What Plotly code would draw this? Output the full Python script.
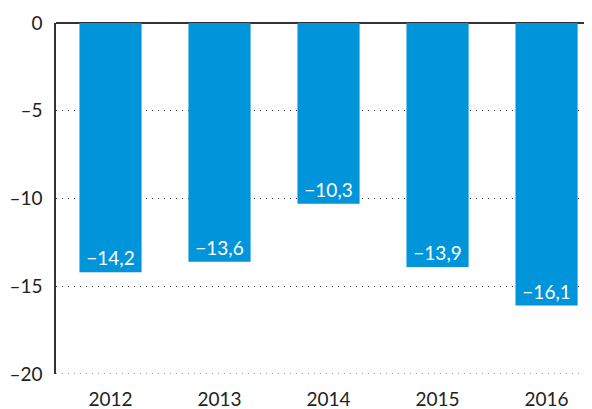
import plotly.graph_objects as go

years = ["2012", "2013", "2014", "2015", "2016"]
values = [-14.2, -13.6, -10.3, -13.9, -16.1]
tick_vals = [0, -5, -10, -15, -20]
tick_text = ["0", "–5", "–10", "–15", "–20"]

labels = ["−" + f"{abs(v):.1f}".replace(".", ",") for v in values]

fig = go.Figure(go.Bar(
    x=years, y=values, text=labels,
    textposition="inside", insidetextanchor="end",
    textfont=dict(color="white", size=19, family="Lato"),
    marker=dict(color="#0095da", line=dict(width=0)),
    width=0.57, cliponaxis=False,
))

fig.add_hline(y=min(tick_vals), line=dict(color="#444", width=1, dash="1px,5px"),
              layer="below")

fig.update_layout(
    width=584, height=409,
    margin=dict(l=48, r=0, t=15, b=43, autoexpand=False),
    paper_bgcolor="white", plot_bgcolor="white",
    font=dict(family="Lato", size=19, color="#222"),
    showlegend=False,
    xaxis=dict(range=[-0.5, 4.417], showline=False, ticks="", showgrid=False,
               zeroline=False, ticklabelstandoff=12, automargin=False),
    yaxis=dict(range=[min(tick_vals), max(tick_vals)], tickvals=tick_vals, ticktext=tick_text,
               showline=True, linecolor="#333", linewidth=1.5,
               showgrid=True, gridcolor="#444", gridwidth=1, griddash="1px,5px",
               zeroline=True, zerolinecolor="#333", zerolinewidth=1.5,
               ticks="", ticklabelstandoff=8, automargin=False),
)

fig.write_html("out.html")
